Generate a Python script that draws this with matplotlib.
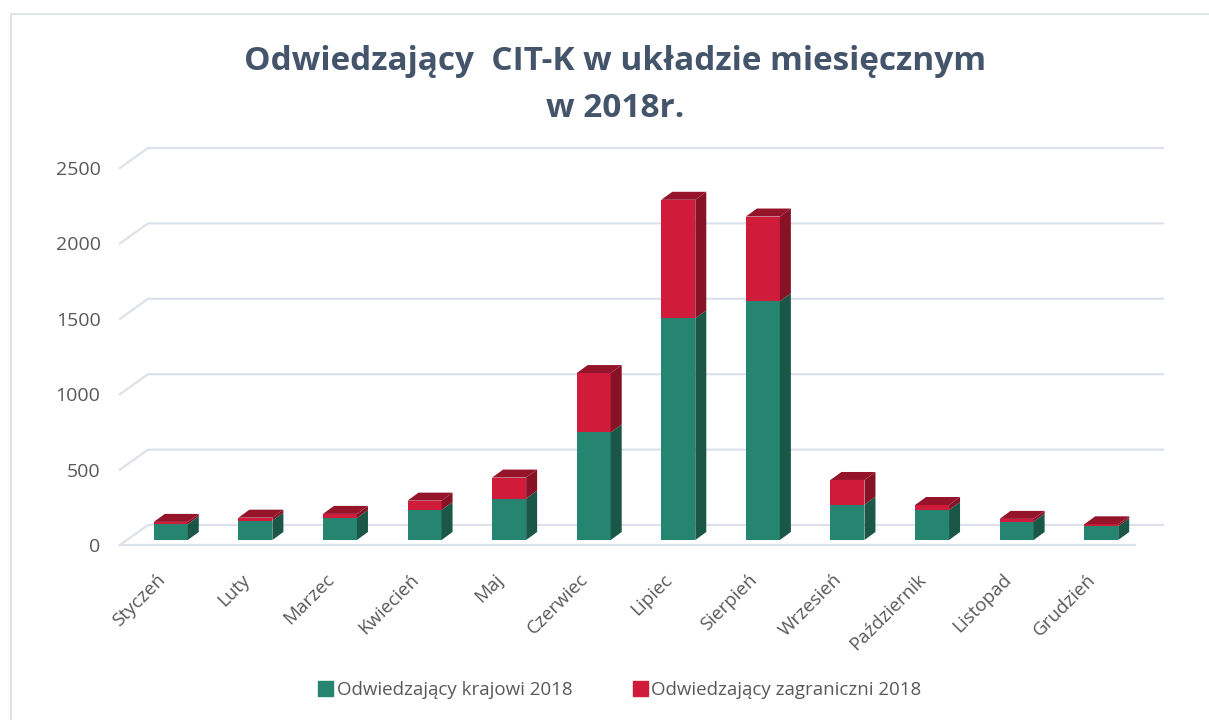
import matplotlib
matplotlib.use("Agg")
import matplotlib.pyplot as plt
from matplotlib.patches import Polygon, Rectangle, Patch
import numpy as np

plt.rcParams['font.family'] = ['Open Sans', 'DejaVu Sans']

months = ["Styczeń", "Luty", "Marzec", "Kwiecień", "Maj", "Czerwiec",
          "Lipiec", "Sierpień", "Wrzesień", "Październik", "Listopad", "Grudzień"]
domestic = [105, 128, 146, 199, 275, 713, 1470, 1583, 234, 199, 122, 91]
foreign = [15, 20, 27, 62, 139, 394, 786, 562, 164, 33, 18, 13]
yticks = [0, 500, 1000, 1500, 2000, 2500]
series_names = ["Odwiedzający krajowi 2018", "Odwiedzający zagraniczni 2018"]

W, H = 1209, 720
fig = plt.figure(figsize=(W / 100, H / 100), dpi=100)

# front plane of the fake 3d box, in pixels
left, right, top, bottom = 120, 1135, 168, 545
ax = fig.add_axes([left / W, (H - bottom) / H, (right - left) / W, (bottom - top) / H])
n = len(months)
ax.set_xlim(-0.5, n - 0.5)
ax.set_ylim(0, 2500)
ux = (right - left) / n          # px per category
uy = (bottom - top) / 2500.0     # px per visitor

# depth offsets (pixels -> data units)
wall_dx, wall_dy = 28 / ux, 20 / uy
bar_dx, bar_dy = 11 / ux, 8 / uy
off_x, off_y = 8.5 / ux, 5 / uy
bw = 34 / ux

grid_c = "#dde2ea"
for v in yticks:
    ax.plot([-0.5, -0.5 + wall_dx, n - 0.5 + wall_dx], [v, v + wall_dy, v + wall_dy],
            color=grid_c, lw=1.6, clip_on=False, zorder=1)
ax.plot([-0.5, n - 0.5], [0, 0], color=grid_c, lw=1.6, clip_on=False, zorder=1)

colors = [("#268570", "#1a5747", "#1a5747"), ("#d01c3a", "#871226", "#95142a")]
x = np.arange(n)
for i in range(n):
    base = 0
    segs = [domestic[i], foreign[i]]
    for k, h in enumerate(segs):
        front, side, topc = colors[k]
        xc = x[i] + off_x
        y0 = base + off_y
        ax.bar(xc, h, bottom=y0, width=bw, color=front, zorder=3, clip_on=False)
        xr = xc + bw / 2
        ax.add_patch(Polygon([(xr, y0), (xr + bar_dx, y0 + bar_dy),
                              (xr + bar_dx, y0 + h + bar_dy), (xr, y0 + h)],
                             closed=True, fc=side, ec='none', zorder=3, clip_on=False))
        base += h
    yt = base + off_y
    xl = x[i] + off_x - bw / 2
    ax.add_patch(Polygon([(xl, yt), (xl + bw, yt), (xl + bw + bar_dx, yt + bar_dy),
                          (xl + bar_dx, yt + bar_dy)],
                         closed=True, fc=colors[1][2], ec='none', zorder=3, clip_on=False))

for s in ax.spines.values():
    s.set_visible(False)
ax.set_facecolor('none')
ax.set_yticks(yticks)
ax.set_yticklabels([str(v) for v in yticks], color="#595959", fontsize=14)
ax.tick_params(axis='y', length=0, pad=14)
ax.set_xticks(x)
ax.set_xticklabels(months, rotation=45, ha='right', va='center', rotation_mode='anchor',
                   color="#595959", fontsize=13.5)
ax.tick_params(axis='x', length=0, pad=23)

fig.text(615 / W, 1 - 85 / H, "Odwiedzający  CIT-K w układzie miesięcznym\nw 2018r.",
         ha='center', va='center', fontsize=24, fontweight='bold', color="#44546a",
         linespacing=1.55)

handles = [Patch(color=colors[0][0]), Patch(color=colors[1][0])]
fig.legend(handles, series_names, loc='center', bbox_to_anchor=(620 / W, 1 - 690 / H),
           ncol=2, frameon=False, handlelength=0.8, handleheight=0.8, handletextpad=0.2,
           columnspacing=3.2, fontsize=13.5, labelcolor="#595959")

fig.add_artist(Rectangle((11 / W, -0.1), 1.2, (H - 14) / H + 0.1, transform=fig.transFigure,
                         fill=False, ec="#d9dde3", lw=1.2))

fig.savefig("out.png", dpi=100, facecolor='white')
